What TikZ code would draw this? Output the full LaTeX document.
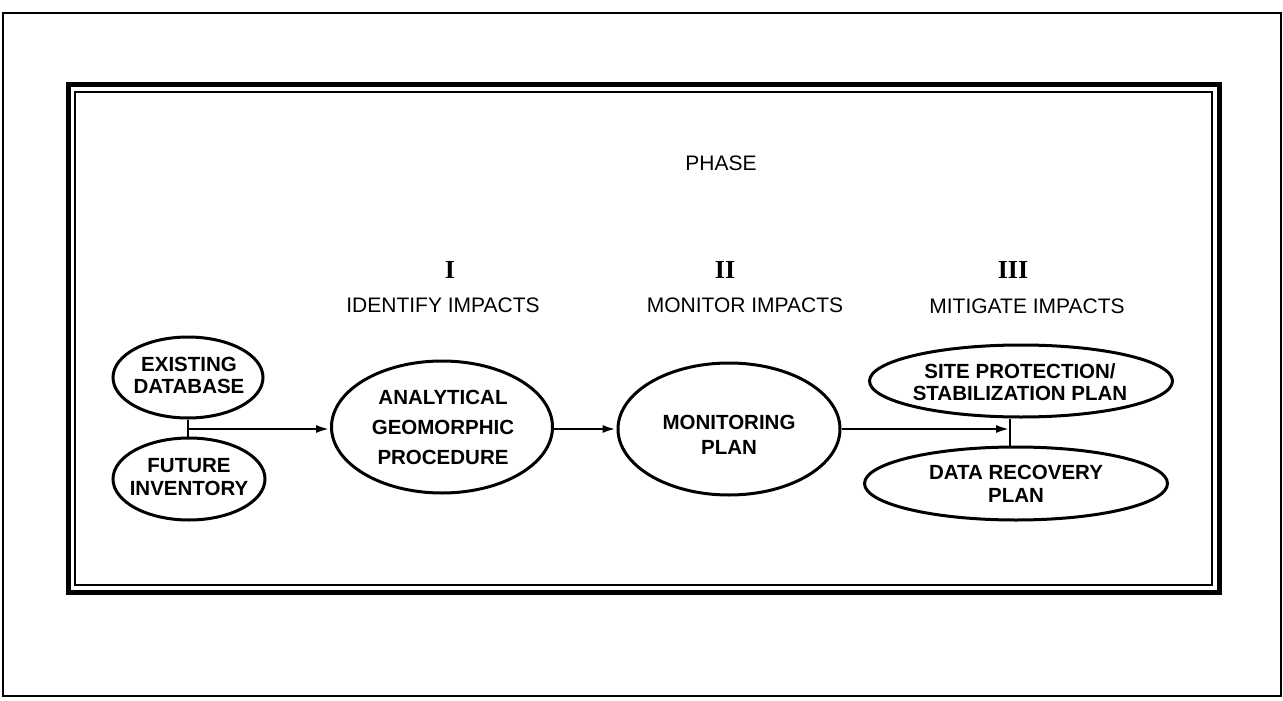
\documentclass[tikz,border=0pt]{standalone}
\usepackage{fontspec}
\setmainfont{Liberation Sans}
\newfontfamily\numfont{Liberation Serif}
\usetikzlibrary{shapes.geometric,arrows.meta}
\begin{document}
\begin{tikzpicture}[x=1pt,y=-1pt,
  ell/.style={ellipse, draw, line width=3pt, inner sep=0pt},
  etext/.style={align=center, inner sep=0pt, font=\fontsize{20.5}{22.5}\selectfont\bfseries},
  head/.style={inner sep=0pt, font=\fontsize{21}{25}\selectfont},
  num/.style={inner sep=0pt, font=\numfont\bfseries\fontsize{26}{26}\selectfont},
  conn/.style={line width=2.7pt},
  arr/.style={conn, -{Latex[length=14pt,width=8pt]}},
  frame/.style={draw, line width=#1}]
\useasboundingbox (0,0) rectangle (1283,701);
% frames
\draw[frame=2.4pt] (3,13) rectangle (1281,696);
\draw[frame=5pt] (68,85) rectangle (1219,592);
\draw[frame=2.2pt] (75,92) rectangle (1212,585);
% headings
\node[head] (phase) at (721,163) {PHASE};
\node[num] (n1) at (450,270) {I};
\node[num] (n2) at (725,270) {II};
\node[num] (n3) at (1013,270) {III};
\node[head] (h1) at (443,305) {IDENTIFY IMPACTS};
\node[head] (h2) at (745,305) {MONITOR IMPACTS};
\node[head] (h3) at (1027,306) {MITIGATE IMPACTS};
% ellipses
\node[ell, minimum width=150pt, minimum height=81pt] (exist) at (188,377.5) {};
\node[ell, minimum width=152pt, minimum height=82pt] (future) at (189,479) {};
\node[ell, minimum width=221pt, minimum height=132pt] (anal) at (442,427) {};
\node[ell, minimum width=222pt, minimum height=132pt] (monitor) at (729,429) {};
\node[ell, minimum width=303pt, minimum height=72pt] (site) at (1021,381) {};
\node[ell, minimum width=303pt, minimum height=73pt] (data) at (1016,483.5) {};
% ellipse texts
\node[etext] (texist) at (189,375.5) {EXISTING\\DATABASE};
\node[etext] (tfuture) at (189,477) {FUTURE\\INVENTORY};
\node[etext, font=\fontsize{20.5}{30}\selectfont\bfseries] (tanal) at (443,427) {ANALYTICAL\\GEOMORPHIC\\PROCEDURE};
\node[etext, font=\fontsize{20.5}{25}\selectfont\bfseries] (tmonitor) at (729,435) {MONITORING\\PLAN};
\node[etext, font=\fontsize{20.5}{21.5}\selectfont\bfseries] (tsite) at (1020,382) {SITE PROTECTION/\\STABILIZATION PLAN};
\node[etext] (tdata) at (1016,484) {DATA RECOVERY\\PLAN};
% connectors
\coordinate (j1) at (188,429);
\coordinate (j2) at (1010,429);
\draw[conn] (exist.south) -- (exist.south |- future.north);
\draw[arr] (j1) -- (j1 -| anal.west);
\draw[arr] (anal.east |- monitor.east) -- (monitor.west);
\draw[conn] (j2 |- site.south) -- (j2 |- data.north);
\draw[arr] (monitor.east) -- (j2);
\end{tikzpicture}
\end{document}
